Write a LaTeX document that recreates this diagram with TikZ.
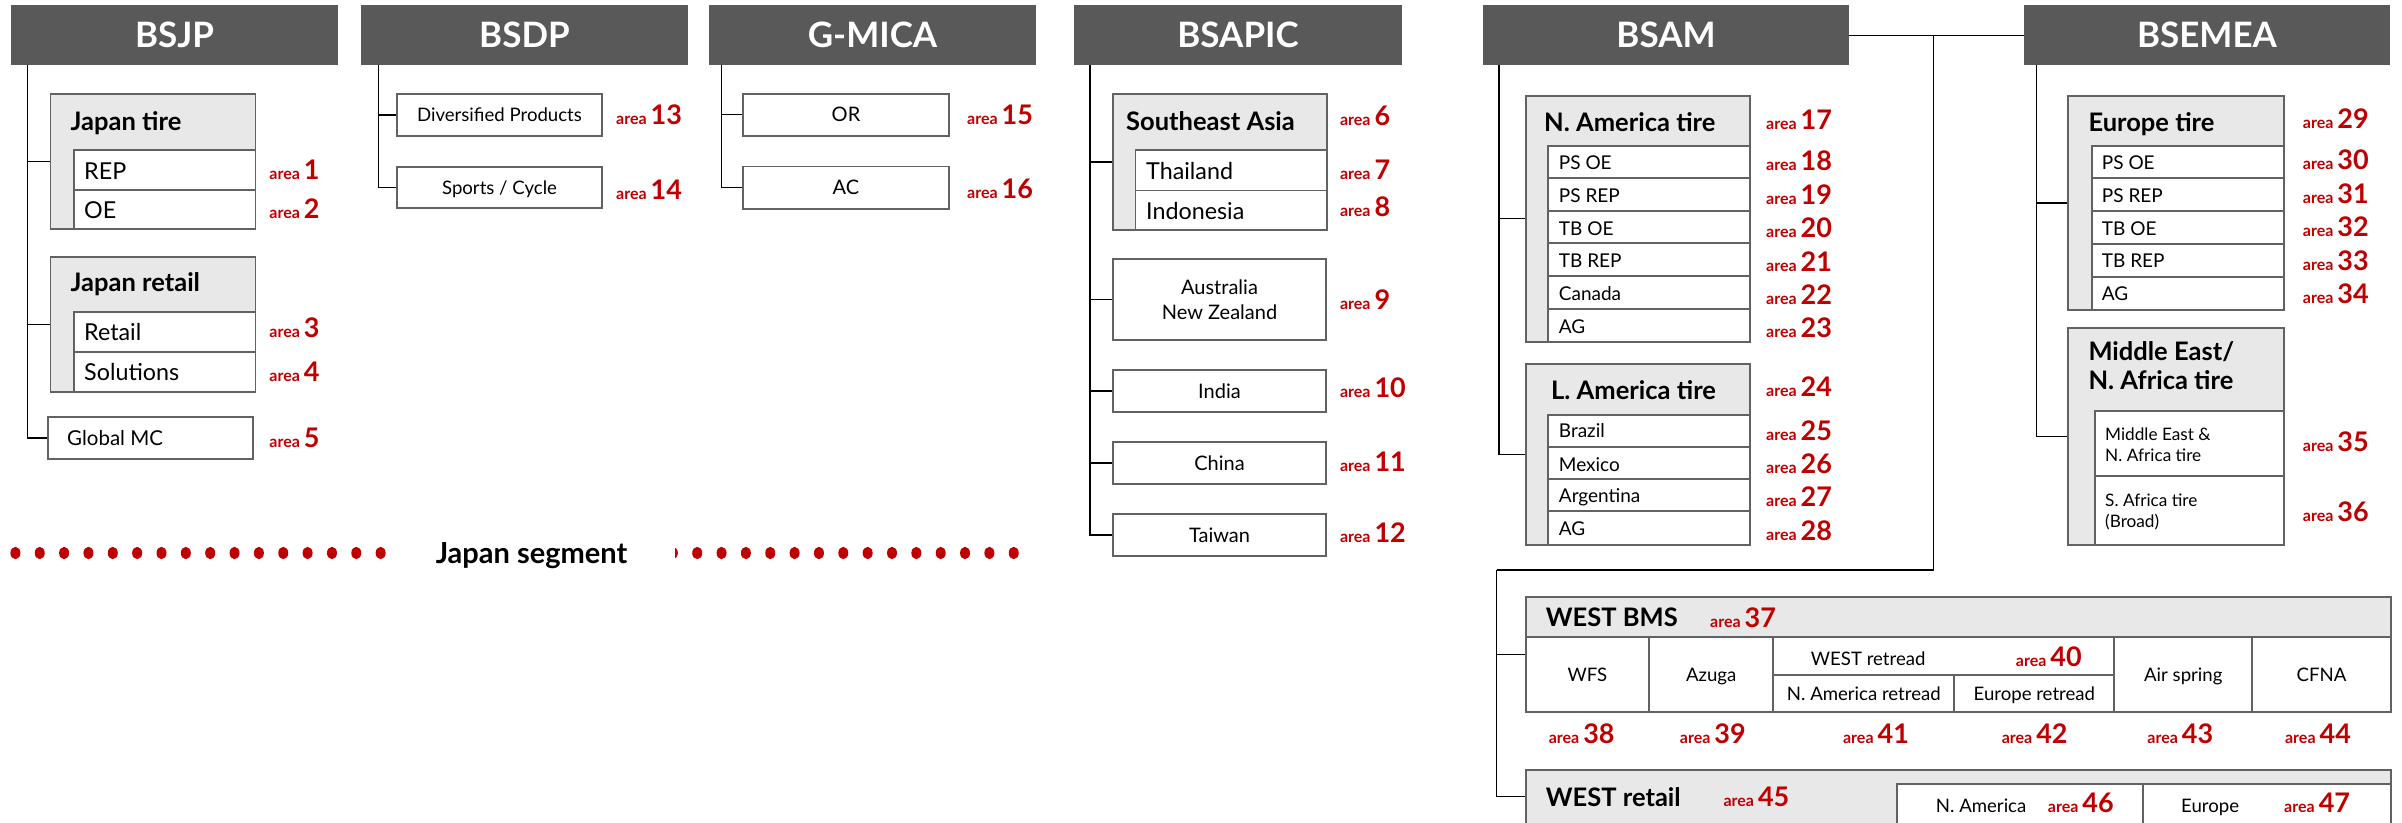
\documentclass[tikz,border=0pt]{standalone}
\usepackage{fontspec}
\setmainfont{Lato}
\definecolor{hdrfill}{HTML}{595959}
\definecolor{grpfill}{HTML}{E8E8E8}
\definecolor{bord}{HTML}{626262}
\definecolor{redt}{HTML}{C00000}
\newcommand\fs[1]{\fontsize{#1bp}{#1bp}\selectfont}
\newcommand\mybox[7][]{\node[#1, anchor=center, minimum width={(#5-#3)*1bp}, minimum height={(#6-#4)*1bp}] (#2) at ({(#3+#5)/2},{(#4+#6)/2}) {#7};}
\newcommand\mytxt[5][]{\node[lbl,#1] (#2) at (#3,#4) {#5};}
\newcommand\arealbl[4][base west]{\node[inner sep=0pt,anchor=#1,text=redt] (a#2) at (#3,#4) {\fs{16}\bfseries area\hspace{4bp}\fs{27}\bfseries #2};}
\begin{document}
\begin{tikzpicture}[x=1bp,y=-1bp,
  hdr/.style={fill=hdrfill,text=white,inner sep=0pt,font=\fs{35}\bfseries,text height=25bp,text depth=0pt},
  grp/.style={draw=bord,fill=grpfill,line width=1.8bp,inner sep=0pt},
  rowbox/.style={draw=bord,fill=white,line width=1.8bp,inner sep=0pt},
  ctext/.style={rowbox,font=\fs{20},text height=14.3bp,text depth=0pt},
  ctexts/.style={rowbox,font=\fs{18.6},text height=13.3bp,text depth=0pt},
  lbl/.style={anchor=base west,inner sep=0pt},
  ttl/.style={lbl,font=\fs{25.5}\bfseries},
  txtb/.style={lbl,font=\fs{23.3}},
  txtm/.style={lbl,font=\fs{19}},
  txts/.style={lbl,font=\fs{17.2}},
  conn/.style={line width=1.3bp,black}]
\useasboundingbox (0,0) rectangle (2402,822);

% ---------------- headers
\mybox[hdr]{bsjp}{11}{5}{338}{65.5}{BSJP}
\mybox[hdr]{bsdp}{361}{5}{688}{65.5}{BSDP}
\mybox[hdr]{gmica}{709}{5}{1036}{65.5}{G-MICA}
\mybox[hdr]{bsapic}{1074}{5}{1402}{65.5}{BSAPIC}
\mybox[hdr]{bsam}{1483}{5}{1849}{65.5}{BSAM}
\mybox[hdr]{bsemea}{2024}{5}{2390}{65.5}{BSEMEA}

% ---------------- BSJP
\mybox[grp]{jtire}{50.4}{94.3}{255.4}{229.3}{}
\mybox[rowbox]{rep}{73.7}{150}{255.4}{189.7}{}
\mybox[rowbox]{oe}{73.7}{189.7}{255.4}{229.3}{}
\mytxt[ttl]{tjtire}{70.5}{130}{Japan tire}
\mytxt[txtb]{trep}{84}{179}{REP}
\mytxt[txtb]{toe}{84}{218.3}{OE}
\mybox[grp]{jretail}{50.4}{256.7}{255.4}{391.7}{}
\mybox[rowbox]{retail}{73.7}{312.3}{255.4}{351.7}{}
\mybox[rowbox]{sol}{73.7}{351.7}{255.4}{391.7}{}
\mytxt[ttl]{tjretail}{70.5}{291.7}{Japan retail}
\mytxt[txtb]{tretail}{84}{340.7}{Retail}
\mytxt[txtb]{tsol}{84}{380}{Solutions}
\mybox[rowbox]{gmc}{47.8}{416.7}{252.7}{459.3}{}
\mytxt[txtb,font=\fs{20.5}]{tgmc}{67}{445.7}{Global MC}
\coordinate (tjp) at (27.7,65.5);
\draw[conn] (tjp) |- (gmc.west);
\draw[conn] (tjp |- jtire.west) -- (jtire.west);
\draw[conn] (tjp |- jretail.west) -- (jretail.west);
\arealbl{1}{269.2}{179.3}
\arealbl{2}{269.2}{218.3}
\arealbl{3}{269.2}{337.7}
\arealbl{4}{269.2}{381.7}
\arealbl{5}{269.2}{447}

% ---------------- BSDP
\mybox[ctexts]{divp}{397}{94}{602}{135.7}{Diversified Products}
\mybox[ctexts]{sports}{397}{166.7}{602}{208.3}{Sports / Cycle}
\coordinate (tdp) at (378.6,65.5);
\draw[conn] (tdp) |- (sports.west);
\draw[conn] (tdp |- divp.west) -- (divp.west);
\arealbl{13}{616}{124.3}
\arealbl{14}{616}{199}

% ---------------- G-MICA
\mybox[ctext]{or}{743}{93.6}{949}{135.8}{OR}
\mybox[ctext]{ac}{743}{166.5}{949}{209}{AC}
\coordinate (tgm) at (721.3,65.5);
\draw[conn] (tgm) |- (ac.west);
\draw[conn] (tgm |- or.west) -- (or.west);
\arealbl{15}{967}{124}
\arealbl{16}{967}{198.3}

% ---------------- BSAPIC
\mybox[grp]{sea}{1113}{94}{1327}{230}{}
\mybox[rowbox]{thai}{1135.5}{150}{1327}{190.5}{}
\mybox[rowbox]{indo}{1135.5}{190.5}{1327}{230}{}
\mytxt[ttl]{tsea}{1126}{130.2}{Southeast Asia}
\mytxt[txtb]{tthai}{1146}{179.4}{Thailand}
\mytxt[txtb]{tindo}{1146}{219}{Indonesia}
\mybox[rowbox,font={\fontsize{20bp}{25bp}\selectfont},align=center]{anz}{1113}{259}{1326}{340}{Australia\\New Zealand}
\mybox[ctext]{india}{1113}{370}{1326}{412}{India}
\mybox[ctext]{china}{1113}{442}{1326}{484}{China}
\mybox[ctext]{taiwan}{1113}{514}{1326}{556}{Taiwan}
\coordinate (tap) at (1090,65.5);
\draw[conn] (tap) |- (taiwan.west);
\draw[conn] (tap |- sea.west) -- (sea.west);
\draw[conn] (tap |- anz.west) -- (anz.west);
\draw[conn] (tap |- india.west) -- (india.west);
\draw[conn] (tap |- china.west) -- (china.west);
\arealbl{6}{1339.8}{125}
\arealbl{7}{1339.8}{179.4}
\arealbl{8}{1339.8}{216.4}
\arealbl{9}{1339.8}{309}
\arealbl{10}{1339.8}{397.7}
\arealbl{11}{1339.8}{471.7}
\arealbl{12}{1339.8}{542}

% ---------------- Japan segment
\foreach \k in {0,...,41}
  \fill[redt] ({15.4+24.35*\k},553) ellipse [x radius=5bp, y radius=6.2bp];
\node[fill=white,inner sep=0pt,minimum width=287bp,minimum height=30bp,
      text height=20.8bp,text depth=0pt,font=\fs{29}\bfseries] (jseg) at (531.5,553) {Japan segment};

% ---------------- BSAM
\mybox[grp]{nam}{1525.7}{95.7}{1750.3}{341.7}{}
\mybox[rowbox]{nps}{1548.3}{145.7}{1750.3}{177.7}{}
\mybox[rowbox]{nprep}{1548.3}{177.7}{1750.3}{210.7}{}
\mybox[rowbox]{ntbo}{1548.3}{210.7}{1750.3}{243.3}{}
\mybox[rowbox]{ntbr}{1548.3}{243.3}{1750.3}{276}{}
\mybox[rowbox]{ncan}{1548.3}{276}{1750.3}{309}{}
\mybox[rowbox]{nag}{1548.3}{309}{1750.3}{341.7}{}
\mytxt[ttl]{tnam}{1544}{131.7}{N. America tire}
\mytxt[txtm]{tnps}{1558.7}{169.3}{PS OE}
\mytxt[txtm]{tnprep}{1558.7}{202.3}{PS REP}
\mytxt[txtm]{tntbo}{1558.7}{235}{TB OE}
\mytxt[txtm]{tntbr}{1558.7}{267.7}{TB REP}
\mytxt[txtm]{tncan}{1558.7}{300.7}{Canada}
\mytxt[txtm]{tnag}{1558.7}{333.3}{AG}
\mybox[grp]{lam}{1525.7}{364.3}{1750.3}{545}{}
\mybox[rowbox]{lbr}{1548.3}{415}{1750.3}{446.7}{}
\mybox[rowbox]{lmx}{1548.3}{446.7}{1750.3}{479}{}
\mybox[rowbox]{lar}{1548.3}{479}{1750.3}{511}{}
\mybox[rowbox]{lag}{1548.3}{511}{1750.3}{545}{}
\mytxt[ttl]{tlam}{1551}{399}{L. America tire}
\mytxt[txtm]{tlbr}{1558.7}{437.7}{Brazil}
\mytxt[txtm]{tlmx}{1558.7}{471}{Mexico}
\mytxt[txtm]{tlar}{1558.7}{502.7}{Argentina}
\mytxt[txtm]{tlag}{1558.7}{535.7}{AG}
\coordinate (tam) at (1499,65.5);
\draw[conn] (tam) |- (lam.west);
\draw[conn] (tam |- nam.west) -- (nam.west);
\arealbl{17}{1766}{129.3}
\arealbl{18}{1766}{170.7}
\arealbl{19}{1766}{204}
\arealbl{20}{1766}{237.3}
\arealbl{21}{1766}{271}
\arealbl{22}{1766}{304}
\arealbl{23}{1766}{337.7}
\arealbl{24}{1766}{396.7}
\arealbl{25}{1766}{440}
\arealbl{26}{1766}{473.3}
\arealbl{27}{1766}{506.7}
\arealbl{28}{1766}{540}

% ---------------- BSEMEA
\mybox[grp]{eur}{2067.7}{96}{2284.3}{310}{}
\mybox[rowbox]{eps}{2091.7}{145.7}{2284.3}{178.3}{}
\mybox[rowbox]{eprep}{2091.7}{178.3}{2284.3}{211}{}
\mybox[rowbox]{etbo}{2091.7}{211}{2284.3}{244.3}{}
\mybox[rowbox]{etbr}{2091.7}{244.3}{2284.3}{276.7}{}
\mybox[rowbox]{eag}{2091.7}{276.7}{2284.3}{310}{}
\mytxt[ttl]{teur}{2088.3}{131.7}{Europe tire}
\mytxt[txtm]{teps}{2101.7}{169.3}{PS OE}
\mytxt[txtm]{teprep}{2101.7}{202.3}{PS REP}
\mytxt[txtm]{tetbo}{2101.7}{235}{TB OE}
\mytxt[txtm]{tetbr}{2101.7}{267.7}{TB REP}
\mytxt[txtm]{teag}{2101.7}{300.7}{AG}
\mybox[grp]{mea}{2067.7}{328.3}{2284.3}{545}{}
\mybox[rowbox]{mena}{2095}{410.7}{2284.3}{476}{}
\mybox[rowbox]{safr}{2095}{476}{2284.3}{545}{}
\mytxt[ttl]{tmea1}{2088.3}{360.7}{Middle East/}
\mytxt[ttl]{tmea2}{2088.3}{389.3}{N. Africa tire}
\mytxt[txts]{tmena1}{2105}{440}{Middle East \&}
\mytxt[txts]{tmena2}{2105}{461.7}{N. Africa tire}
\mytxt[txts]{tsafr1}{2105}{506}{S. Africa tire}
\mytxt[txts]{tsafr2}{2105}{527.7}{(Broad)}
\coordinate (tem) at (2036.7,65.5);
\draw[conn] (tem) |- (mea.west);
\draw[conn] (tem |- eur.west) -- (eur.west);
\arealbl{29}{2302.7}{128.3}
\arealbl{30}{2302.7}{169.3}
\arealbl{31}{2302.7}{203.3}
\arealbl{32}{2302.7}{236}
\arealbl{33}{2302.7}{270}
\arealbl{34}{2302.7}{303.3}
\arealbl{35}{2302.7}{451}
\arealbl{36}{2302.7}{521}

% ---------------- WEST BMS
\mybox[grp]{wbms}{1525.7}{596.7}{2390.7}{712}{}
\mybox[ctexts]{wfs}{1525.7}{637.3}{1649}{712}{WFS}
\mybox[ctexts]{azuga}{1649}{637.3}{1773.3}{712}{Azuga}
\mybox[rowbox]{wret}{1773.3}{637.3}{2114.3}{675}{}
\mybox[ctexts]{naret}{1773.3}{675}{1954.3}{712}{N. America retread}
\mybox[ctexts]{euret}{1954.3}{675}{2114.3}{712}{Europe retread}
\mybox[ctexts]{airsp}{2114.3}{637.3}{2252.3}{712}{Air spring}
\mybox[ctexts]{cfna}{2252.3}{637.3}{2390.7}{712}{CFNA}
\mytxt[ttl]{twbms}{1545.7}{626.7}{WEST BMS}
\mytxt[lbl,font=\fs{18.6}]{twret}{1810.7}{665.7}{WEST retread}
\arealbl{37}{1710}{627}
\arealbl{40}{2015.7}{666.7}
\arealbl[base]{38}{1581.7}{743.3}
\arealbl[base]{39}{1712.8}{743.3}
\arealbl[base]{41}{1876}{743.3}
\arealbl[base]{42}{2034.7}{743.3}
\arealbl[base]{43}{2180.3}{743.3}
\arealbl[base]{44}{2318}{743.3}

% ---------------- WEST retail
\mybox[grp]{wrtl}{1525.7}{770}{2390.7}{823.5}{}
\mybox[rowbox]{rna}{1896.7}{784.3}{2142.7}{823.5}{}
\mybox[rowbox]{reu}{2142.7}{784.3}{2390.7}{823.5}{}
\mytxt[ttl]{twrtl}{1545.7}{806}{WEST retail}
\mytxt[lbl,font=\fs{18.6}]{trna}{1935.7}{812.3}{N. America}
\mytxt[lbl,font=\fs{18.6}]{treu}{2181}{812.3}{Europe}
\arealbl{45}{1723.3}{806}
\arealbl{46}{2047.7}{812.3}
\arealbl{47}{2284}{812.3}

% ---------------- BSAM -- BSEMEA link and WEST branch
\draw[conn] (bsam.east) -- (bsemea.west);
\coordinate (j1) at (1933.7,35.25);
\coordinate (j2) at (1496.7,570);
\draw[conn] (j1) |- (j2);
\draw[conn] (j2) |- (wrtl.west);
\draw[conn] (j2 |- wbms.west) -- (wbms.west);
\end{tikzpicture}
\end{document}
